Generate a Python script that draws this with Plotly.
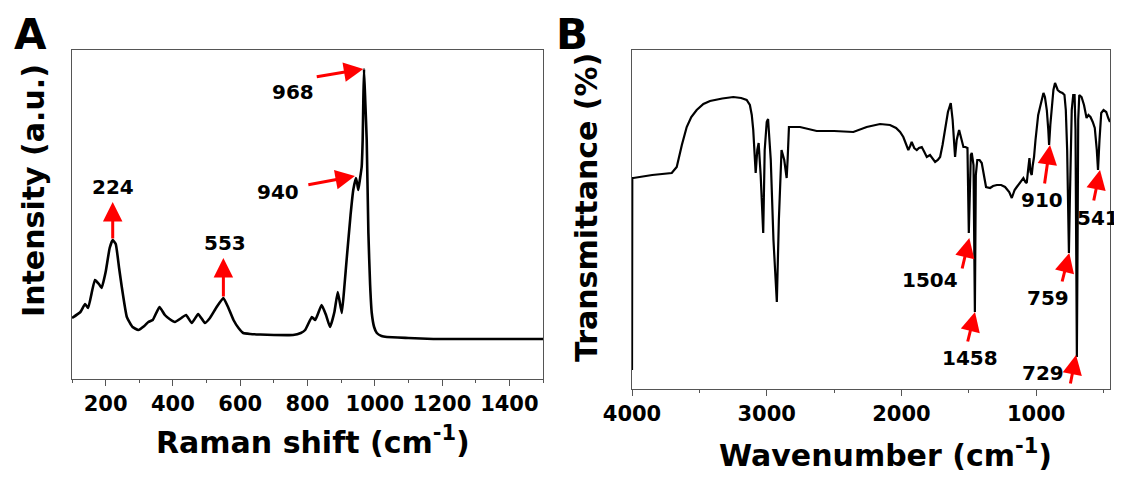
import plotly.graph_objects as go

# ---------------- Panel A: Raman ----------------
raman_shift = [100, 125, 139, 148, 168, 180, 188, 200, 212, 221, 230, 240, 248, 263, 280, 297,
               315, 327, 340, 360, 376, 390, 406, 425, 439, 456, 475, 495, 510, 530, 550, 565,
               580, 595, 609, 630, 659, 700, 757, 780, 793, 813, 823, 842, 855, 867, 880, 890,
               902, 910, 917, 928, 936, 944, 948, 951, 956, 961, 964, 966, 968, 972, 976, 981,
               986, 991, 998, 1006, 1020, 1036, 1100, 1174, 1300, 1400, 1500]
raman_int = [61, 67, 75, 71, 99, 95, 91, 107, 131, 139, 135, 111, 92, 62, 52, 49,
             53, 57, 59, 72, 64, 60, 57, 61, 64, 56, 65, 56, 61, 72, 81, 71,
             59, 51, 46, 45, 44.5, 44, 44, 46, 49, 62, 59, 74, 64, 52, 67, 87,
             66, 94, 122, 164, 189, 201, 195, 189, 200, 212, 239, 280, 310, 275, 239, 146,
             95, 66, 52, 46, 43, 42, 41, 40, 40, 40, 40]

raman_labels = ["224", "553", "940", "968"]
raman_tip_x = [221, 550, 941, 966]
raman_tip_y = [177, 121, 203, 310]
raman_tail_x = [221, 550, 798, 823]
raman_tail_y = [139, 81, 194, 302]
raman_lab_x = [223, 555, 712, 756]
raman_lab_y = [192, 136, 187, 287]

# ---------------- Panel B: FTIR ----------------
ir_wn = [4000, 3998, 3990, 3850, 3705, 3668, 3630, 3594, 3560, 3520, 3470, 3421, 3330, 3248,
         3190, 3149, 3125, 3111, 3100, 3082, 3070, 3060, 3045, 3026, 3015, 3000, 2990, 2970,
         2950, 2925, 2910, 2890, 2870, 2852, 2845, 2835, 2800, 2753, 2629, 2500, 2357, 2300,
         2258, 2159, 2085, 2040, 2010, 1986, 1949, 1935, 1924, 1905, 1886, 1870, 1849, 1830,
         1812, 1788, 1770, 1750, 1730, 1713, 1695, 1676, 1655, 1634, 1620, 1602, 1590, 1572,
         1555, 1540, 1525, 1510, 1500, 1485, 1478, 1465, 1455, 1448, 1437, 1420, 1404, 1390,
         1372, 1342, 1320, 1292, 1260, 1231, 1200, 1181, 1160, 1144, 1119, 1095, 1080, 1070,
         1060, 1050, 1042, 1033, 1025, 1016, 1005, 996, 985, 971, 958, 946, 935, 921, 910,
         904, 895, 884, 872, 860, 850, 840, 822, 805, 790, 780, 770, 762, 757, 750, 742, 736,
         725, 715, 708, 703, 698, 693, 688, 680, 663, 645, 626, 612, 597, 580, 565, 550, 541,
         530, 517, 500, 480, 465, 452]
ir_t = [19, 211, 211, 214, 216, 222, 244, 262, 272, 279, 285, 288, 290.5, 292,
        291, 289, 284, 274, 259, 216, 239, 246, 214, 156, 239, 267, 270, 229,
        149, 87, 169, 239, 229, 211, 229, 262, 262, 262, 258, 258, 257, 260,
        262, 265, 264, 261, 257, 252, 239, 243, 247, 241, 239, 241, 242, 237,
        232, 234, 231, 227, 229, 232, 244, 262, 277, 286, 269, 232, 249, 259,
        249, 242, 242, 241, 156, 234, 236, 224, 77, 214, 229, 229, 226, 217,
        202, 201, 203, 204, 204, 202, 197, 191, 199, 202, 207, 211, 207, 206,
        219, 231, 217, 214, 224, 232, 249, 262, 274, 282, 291, 296, 292, 279, 259,
        244, 264, 286, 299, 306, 303, 299, 297, 296, 294, 279, 239, 159, 136, 189, 249, 279,
        294, 294, 259, 139, 32, 139, 269, 294, 292, 284, 271, 274, 272, 267, 261, 239, 219,
        249, 276, 279, 277, 271, 267]

ir_labels = ["1504", "1458", "910", "541", "759", "729"]
ir_tip_x = [1496, 1454, 897, 526, 754, 704]
ir_tip_y = [151, 77, 244, 219, 136, 34]
ir_tail_x = [1552, 1511, 939, 575, 810, 748]
ir_tail_y = [119, 46, 204, 187, 106, 4]
ir_lab_x = [1788, 1491, 954, 538, 909, 947]
ir_lab_y = [109, 31, 189, 171, 91, 16]

W, H = 1122, 479
OFF = 8  # page body margin offset
FONT = "DejaVu Sans"
RED = "#ff0000"


def px(x):
    return (x - OFF) / W


def py(y):
    return 1 - (y - OFF) / H


fig = go.Figure()
fig.add_trace(go.Scatter(x=raman_shift, y=raman_int, mode="lines",
                         line=dict(color="black", width=2.6, shape="spline", smoothing=0.4),
                         xaxis="x", yaxis="y", showlegend=False))
fig.add_trace(go.Scatter(x=ir_wn, y=ir_t, mode="lines",
                         line=dict(color="black", width=2.2),
                         xaxis="x2", yaxis="y2", showlegend=False))

axis_common = dict(showline=True, linecolor="#555555", linewidth=1, mirror=True,
                   showgrid=False, zeroline=False, automargin=False)
tick_font = dict(family=FONT, size=21, color="black", weight="bold")

fig.update_layout(
    template="none",
    width=W, height=H, margin=dict(l=0, r=0, t=0, b=0, pad=0, autoexpand=False),
    paper_bgcolor="white", plot_bgcolor="white",
    xaxis=dict(domain=[px(72), px(543)], range=[100, 1500], anchor="y",
               tickmode="array", tickvals=[200, 400, 600, 800, 1000, 1200, 1400],
               ticks="outside", ticklen=6, tickwidth=1, tickcolor="#555555",
               minor=dict(tickvals=[100, 300, 500, 700, 900, 1100, 1300, 1500],
                          ticks="outside", ticklen=3, tickcolor="#555555"),
               tickfont=tick_font, **axis_common),
    yaxis=dict(domain=[py(379), py(50)], range=[0, 329], anchor="x",
               showticklabels=False, ticks="", **axis_common),
    xaxis2=dict(domain=[px(632), px(1110)], range=[4000, 452], anchor="y2",
                tickmode="array", tickvals=[4000, 3000, 2000, 1000],
                ticks="outside", ticklen=6, tickwidth=1, tickcolor="#555555",
                minor=dict(tickvals=[3500, 2500, 1500, 500],
                           ticks="outside", ticklen=3, tickcolor="#555555"),
                tickfont=tick_font, **axis_common),
    yaxis2=dict(domain=[py(389), py(50)], range=[0, 339], anchor="x2",
                showticklabels=False, ticks="", **axis_common),
)

annotations = []
lab_font = dict(family=FONT, size=20, color="black", weight="bold")

for lab, tx, ty, ax_, ay_, lx, ly in zip(raman_labels, raman_tip_x, raman_tip_y,
                                         raman_tail_x, raman_tail_y, raman_lab_x, raman_lab_y):
    annotations.append(dict(x=tx, y=ty, ax=ax_, ay=ay_, xref="x", yref="y", axref="x", ayref="y",
                            text="", showarrow=True, arrowhead=2, arrowsize=1.3,
                            arrowwidth=3, arrowcolor=RED))
    annotations.append(dict(x=lx, y=ly, xref="x", yref="y", text=lab, showarrow=False,
                            font=lab_font, xanchor="center", yanchor="middle"))

for lab, tx, ty, ax_, ay_, lx, ly in zip(ir_labels, ir_tip_x, ir_tip_y,
                                         ir_tail_x, ir_tail_y, ir_lab_x, ir_lab_y):
    annotations.append(dict(x=tx, y=ty, ax=ax_, ay=ay_, xref="x2", yref="y2", axref="x2", ayref="y2",
                            text="", showarrow=True, arrowhead=2, arrowsize=1.3,
                            arrowwidth=3, arrowcolor=RED))
    annotations.append(dict(x=lx, y=ly, xref="x2", yref="y2", text=lab, showarrow=False,
                            font=lab_font, xanchor="center", yanchor="middle"))

title_font = dict(family=FONT, size=30, color="black", weight="bold")
annotations.append(dict(x=px(313), y=py(440), xref="paper", yref="paper",
                        text="Raman shift (cm<sup>-1</sup>)", showarrow=False, font=title_font,
                        xanchor="center", yanchor="middle"))
annotations.append(dict(x=px(886), y=py(453), xref="paper", yref="paper",
                        text="Wavenumber (cm<sup>-1</sup>)", showarrow=False, font=title_font,
                        xanchor="center", yanchor="middle"))
annotations.append(dict(x=px(33), y=py(191), xref="paper", yref="paper",
                        text="Intensity (a.u.)", showarrow=False, font=title_font, textangle=-90,
                        xanchor="center", yanchor="middle"))
annotations.append(dict(x=px(586), y=py(208), xref="paper", yref="paper",
                        text="Transmittance (%)", showarrow=False, font=title_font, textangle=-90,
                        xanchor="center", yanchor="middle"))
panel_font = dict(family=FONT, size=42, color="black", weight="bold")
annotations.append(dict(x=px(30), y=py(34), xref="paper", yref="paper", text="A",
                        showarrow=False, font=panel_font, xanchor="center", yanchor="middle"))
annotations.append(dict(x=px(572), y=py(34), xref="paper", yref="paper", text="B",
                        showarrow=False, font=panel_font, xanchor="center", yanchor="middle"))

fig.update_layout(annotations=annotations)
fig.write_html("out.html")
